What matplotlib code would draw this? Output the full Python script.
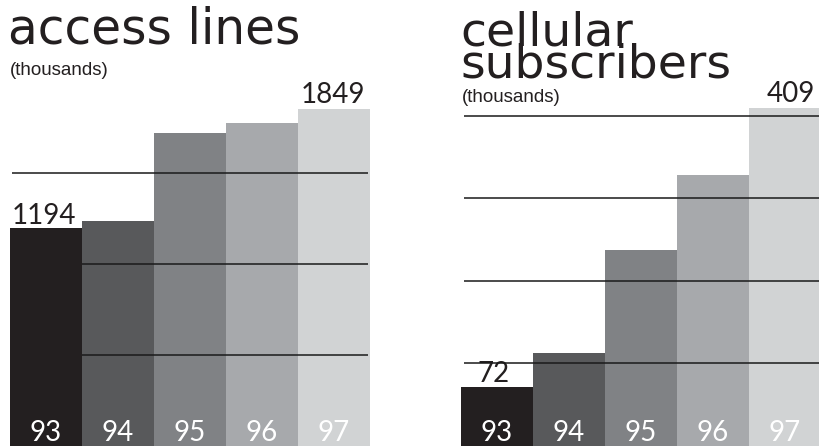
import matplotlib
matplotlib.use("Agg")
import matplotlib.pyplot as plt

# Data
years = ["93", "94", "95", "96", "97"]
access_lines = [1194, 1234, 1717, 1772, 1849]
cellular = [72, 113, 237, 328, 409]
access_grid = [500, 1000, 1500]
cellular_grid = [100, 200, 300, 400]

bar_colors = ["#231f20", "#58595b", "#808285", "#a7a9ac", "#d1d3d4"]
ink = "#231f20"

W, H = 820, 446
fig = plt.figure(figsize=(W / 100, H / 100), dpi=100)
fig.patch.set_facecolor("white")

title_font = ["DejaVu Sans"]
num_font = ["Lato", "DejaVu Sans"]
note_font = ["Liberation Sans", "DejaVu Sans"]


def fx(px):
    return px / W


def fy(py):
    return 1 - py / H


def panel(left_px, values, grid, ymax, grid_x0, grid_x1, first_on_top):
    ax = fig.add_axes([fx(left_px), 0, 360 / W, 1])
    ax.set_xlim(-0.5, 4.5)
    ax.set_ylim(0, ymax)
    ax.axis("off")
    x = range(len(values))
    bars = ax.bar(x, values, width=1.0, color=bar_colors, linewidth=0, zorder=1)
    if first_on_top:
        bars[0].set_zorder(3)
    ax.hlines(grid, grid_x0, grid_x1, colors="#1a1a1a", linewidth=1.1, zorder=2)
    for i, y in enumerate(years):
        ax.annotate(y, xy=(i, 0), xytext=(0, 0), textcoords="offset points",
                    ha="center", va="bottom", color="white", fontsize=20,
                    family=num_font, zorder=4)
    return ax


# access lines panel
ax1 = panel(10, access_lines, access_grid, 446 / 0.18226,
            -0.5 + 2 / 72, 4.5 - 2 / 72, True)
ax1.annotate(f"{access_lines[0]}", xy=(-0.5, access_lines[0]), xytext=(1.5, 3),
             textcoords="offset points", ha="left", va="baseline", color=ink,
             fontsize=20, family=num_font)
ax1.annotate(f"{access_lines[-1]}", xy=(4.5, access_lines[-1]), xytext=(-3.5, 4.5),
             textcoords="offset points", ha="right", va="baseline", color=ink,
             fontsize=20, family=num_font)

# cellular subscribers panel
ax2 = panel(461, cellular, cellular_grid, 446 / 0.826,
            -0.5 + 3 / 72, 4.5, False)
ax2.annotate(f"{cellular[0]}", xy=(-0.5, cellular[0]), xytext=(12, 3.5),
             textcoords="offset points", ha="left", va="baseline", color=ink,
             fontsize=20, family=num_font, zorder=1.5)
ax2.annotate(f"{cellular[-1]}", xy=(4.5, cellular[-1]), xytext=(-4, 4.5),
             textcoords="offset points", ha="right", va="baseline", color=ink,
             fontsize=20, family=num_font)

# titles
fig.text(fx(8), fy(44), "access lines", ha="left", va="baseline",
         fontsize=35, family=title_font, color=ink)
fig.text(fx(10), fy(75), "(thousands)", ha="left", va="baseline",
         fontsize=13.5, family=note_font, color=ink)

fig.text(fx(460), fy(77), "cellular\nsubscribers", ha="left", va="baseline",
         fontsize=34, family=title_font, color=ink, linespacing=0.6)
fig.text(fx(462), fy(102), "(thousands)", ha="left", va="baseline",
         fontsize=13.5, family=note_font, color=ink)

fig.savefig("out.png", dpi=100)
